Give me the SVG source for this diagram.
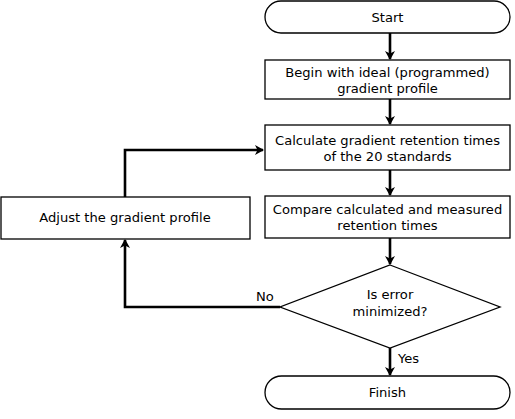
<svg xmlns="http://www.w3.org/2000/svg" width="515" height="419" viewBox="0 0 515 419">
<style>
.box{fill:#fff;stroke:#000;stroke-width:1.3}
.t{font-family:"DejaVu Sans",Verdana,sans-serif;font-size:13.1px;fill:#000;text-anchor:middle}
.l{font-family:"DejaVu Sans",Verdana,sans-serif;font-size:13.1px;fill:#000}
.c{fill:none;stroke:#000;stroke-width:2.6}
</style>
<defs>
<marker id="ah" markerWidth="10" markerHeight="10" refX="8" refY="5" orient="auto" markerUnits="userSpaceOnUse">
<path d="M0,0 L9,5 L0,10 L2.5,5 Z" fill="#000"/>
</marker>
</defs>
<rect width="515" height="419" fill="#fff"/>
<g id="connectors">
<line class="c" x1="390" y1="33" x2="390" y2="59" marker-end="url(#ah)"/>
<line class="c" x1="390" y1="99" x2="390" y2="124" marker-end="url(#ah)"/>
<line class="c" x1="390" y1="170" x2="390" y2="195" marker-end="url(#ah)"/>
<line class="c" x1="390" y1="238" x2="390" y2="264" marker-end="url(#ah)"/>
<line class="c" x1="390" y1="348" x2="390" y2="375" marker-end="url(#ah)"/>
<polyline class="c" points="280,307 125,307 125,240" marker-end="url(#ah)"/>
<polyline class="c" points="125,197 125,150 263,150" marker-end="url(#ah)"/>
<text class="l" x="256" y="301">No</text>
<text class="l" x="398" y="363">Yes</text>
</g>
<g id="start">
<rect class="box" x="265" y="1" width="245" height="32" rx="16"/>
<text class="t" x="387.5" y="22">Start</text>
</g>
<g id="begin">
<rect class="box" x="265" y="60" width="245" height="39"/>
<text class="t" x="387.5" y="77">Begin with ideal (programmed)</text>
<text class="t" x="387.5" y="93">gradient profile</text>
</g>
<g id="calculate">
<rect class="box" x="265" y="125" width="245" height="45"/>
<text class="t" x="387.5" y="145">Calculate gradient retention times</text>
<text class="t" x="387.5" y="161">of the 20 standards</text>
</g>
<g id="compare">
<rect class="box" x="265" y="196" width="245" height="42"/>
<text class="t" x="387.5" y="214">Compare calculated and measured</text>
<text class="t" x="387.5" y="230">retention times</text>
</g>
<g id="adjust">
<rect class="box" x="1" y="197" width="249" height="42"/>
<text class="t" x="125" y="222">Adjust the gradient profile</text>
</g>
<g id="decision">
<polygon class="box" points="390,265 500,307 390,348 280,307"/>
<text class="t" x="390" y="299">Is error</text>
<text class="t" x="390" y="316">minimized?</text>
</g>
<g id="finish">
<rect class="box" x="265" y="376" width="245" height="33" rx="16.5"/>
<text class="t" x="387.5" y="397">Finish</text>
</g>
</svg>
